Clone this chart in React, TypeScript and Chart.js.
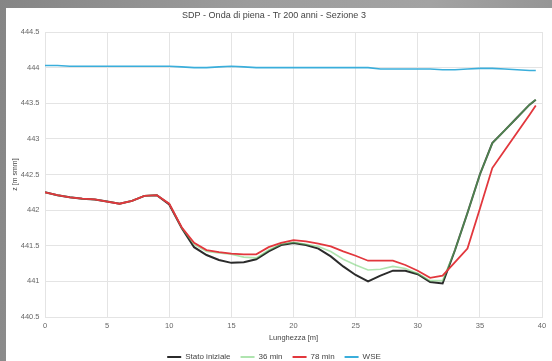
import React, { useEffect, useRef } from "react";
import { Chart, registerables } from "chart.js";

Chart.register(...registerables);

const TITLE = "SDP - Onda di piena - Tr 200 anni - Sezione 3";
const X_LABEL = "Lunghezza [m]";
const Y_LABEL = "z [m smm]";
const SERIES_NAMES = ["Stato iniziale", "36 min", "78 min", "WSE"];

const DISTANCES = [
  0, 1, 2, 3, 4, 5, 6, 7, 8, 9, 10, 11, 12, 13, 14, 15, 16, 17, 18, 19, 20,
  21, 22, 23, 24, 25, 26, 27, 28, 29, 30, 31, 32, 33, 34, 35, 36, 37, 38, 39, 39.5,
];

const STATO_INIZIALE = [
  442.25, 442.21, 442.18, 442.16, 442.15, 442.12, 442.09, 442.13, 442.2, 442.21, 442.08,
  441.75, 441.48, 441.37, 441.3, 441.26, 441.27, 441.31, 441.42, 441.51, 441.54,
  441.51, 441.46, 441.35, 441.21, 441.09, 441.0, 441.08, 441.15, 441.15, 441.1,
  440.99, 440.97, 441.44, 441.96, 442.5, 442.94, 443.12, 443.3, 443.48, 443.55,
];

const MIN_36 = [
  442.25, 442.21, 442.18, 442.16, 442.15, 442.12, 442.09, 442.13, 442.2, 442.21, 442.09,
  441.75, 441.52, 441.42, 441.4, 441.38, 441.34, 441.33, 441.44, 441.52, 441.55,
  441.52, 441.49, 441.42, 441.31, 441.23, 441.16, 441.17, 441.21, 441.18, 441.11,
  441.01, 441.01, 441.44, 441.96, 442.5, 442.94, 443.12, 443.3, 443.48, 443.55,
];

const MIN_78 = [
  442.25, 442.21, 442.18, 442.16, 442.15, 442.12, 442.09, 442.13, 442.2, 442.21, 442.09,
  441.76, 441.54, 441.44, 441.41, 441.39, 441.38, 441.38, 441.48, 441.54, 441.58,
  441.56, 441.53, 441.49, 441.42, 441.36, 441.29, 441.29, 441.29, 441.23, 441.15,
  441.05, 441.08, 441.27, 441.46, 442.02, 442.59, 442.84, 443.09, 443.34, 443.47,
];

const WSE = [
  444.03, 444.03, 444.02, 444.02, 444.02, 444.02, 444.02, 444.02, 444.02, 444.02, 444.02,
  444.01, 444.0, 444.0, 444.01, 444.02, 444.01, 444.0, 444.0, 444.0, 444.0,
  444.0, 444.0, 444.0, 444.0, 444.0, 444.0, 443.98, 443.98, 443.98, 443.98,
  443.98, 443.97, 443.97, 443.98, 443.99, 443.99, 443.98, 443.97, 443.96, 443.96,
];

const FONT = "'Liberation Sans', Arial, sans-serif";
const GRID = "#e4e4e4";

export default function App() {
  const ref = useRef<HTMLCanvasElement>(null);

  useEffect(() => {
    document.body.style.margin = "0";
    const pts = (ys: number[]) => DISTANCES.map((x, i) => ({ x, y: ys[i] }));
    const ds = (label: string, ys: number[], color: string, width: number, order: number) => ({
      label,
      data: pts(ys),
      borderColor: color,
      backgroundColor: color,
      borderWidth: width,
      pointRadius: 0,
      pointHoverRadius: 0,
      tension: 0,
      fill: false,
      order,
    });
    const chart = new Chart(ref.current as HTMLCanvasElement, {
      type: "line",
      data: {
        datasets: [
          ds(SERIES_NAMES[0], STATO_INIZIALE, "#2b2b2b", 2, 2),
          ds(SERIES_NAMES[1], MIN_36, "rgba(110,205,110,0.55)", 1.6, 1),
          ds(SERIES_NAMES[2], MIN_78, "#e2373d", 1.8, 0),
          ds(SERIES_NAMES[3], WSE, "#3aaedb", 1.6, 3),
        ],
      },
      options: {
        responsive: false,
        animation: false,
        devicePixelRatio: 1,
        layout: { padding: { left: 0, right: 10, top: 0, bottom: 0 } },
        plugins: {
          title: {
            display: true,
            text: TITLE,
            color: "#444",
            font: { family: FONT, size: 9, weight: "normal" },
            padding: { top: 2.3, bottom: 10.9 },
          },
          legend: {
            position: "bottom",
            labels: {
              boxWidth: 14,
              boxHeight: 2,
              padding: 10,
              color: "#444",
              font: { family: FONT, size: 8 },
              generateLabels: (c: any) =>
                (Chart.defaults.plugins.legend.labels as any)
                  .generateLabels(c)
                  .sort((a: any, b: any) => a.datasetIndex - b.datasetIndex)
                  .map((l: any) => ({ ...l, fillStyle: l.strokeStyle, lineWidth: 0 })),
            },
          },
          tooltip: { enabled: false },
        },
        scales: {
          x: {
            type: "linear",
            min: 0,
            max: 40,
            ticks: {
              stepSize: 5,
              color: "#666",
              padding: 4,
              font: { family: FONT, size: 7.5 },
              maxRotation: 0,
            },
            grid: { color: GRID, drawTicks: false },
            border: { color: GRID },
            title: {
              display: true,
              text: X_LABEL,
              color: "#444",
              font: { family: FONT, size: 7.5 },
              padding: { top: 3, bottom: 0.5 },
            },
            afterFit: (s: any) => {
              s.height = 26;
            },
          },
          y: {
            type: "linear",
            min: 440.5,
            max: 444.5,
            ticks: {
              stepSize: 0.5,
              color: "#666",
              padding: 5.5,
              font: { family: FONT, size: 7.5 },
              callback: (v: any) => String(v),
            },
            grid: { color: GRID, drawTicks: false },
            border: { color: GRID },
            title: {
              display: true,
              text: Y_LABEL,
              color: "#444",
              font: { family: FONT, size: 7 },
              padding: { top: 4.8, bottom: 0 },
            },
            afterFit: (s: any) => {
              s.width = 39;
            },
          },
        },
      } as any,
    });
    return () => chart.destroy();
  }, []);

  return (
    <div
      style={{
        position: "fixed",
        left: 0,
        top: 0,
        width: 552,
        height: 361,
        overflow: "hidden",
        background: "linear-gradient(100deg, #858585 0%, #9c9c9c 40%, #a3a3a3 70%, #8f8f8f 100%)",
      }}
    >
      <div
        style={{
          position: "absolute",
          left: 6,
          top: 8,
          width: 546,
          height: 363,
          background: "#ffffff",
        }}
      >
        <canvas ref={ref} width={546} height={363} style={{ display: "block", width: 546, height: 363 }} />
      </div>
    </div>
  );
}
